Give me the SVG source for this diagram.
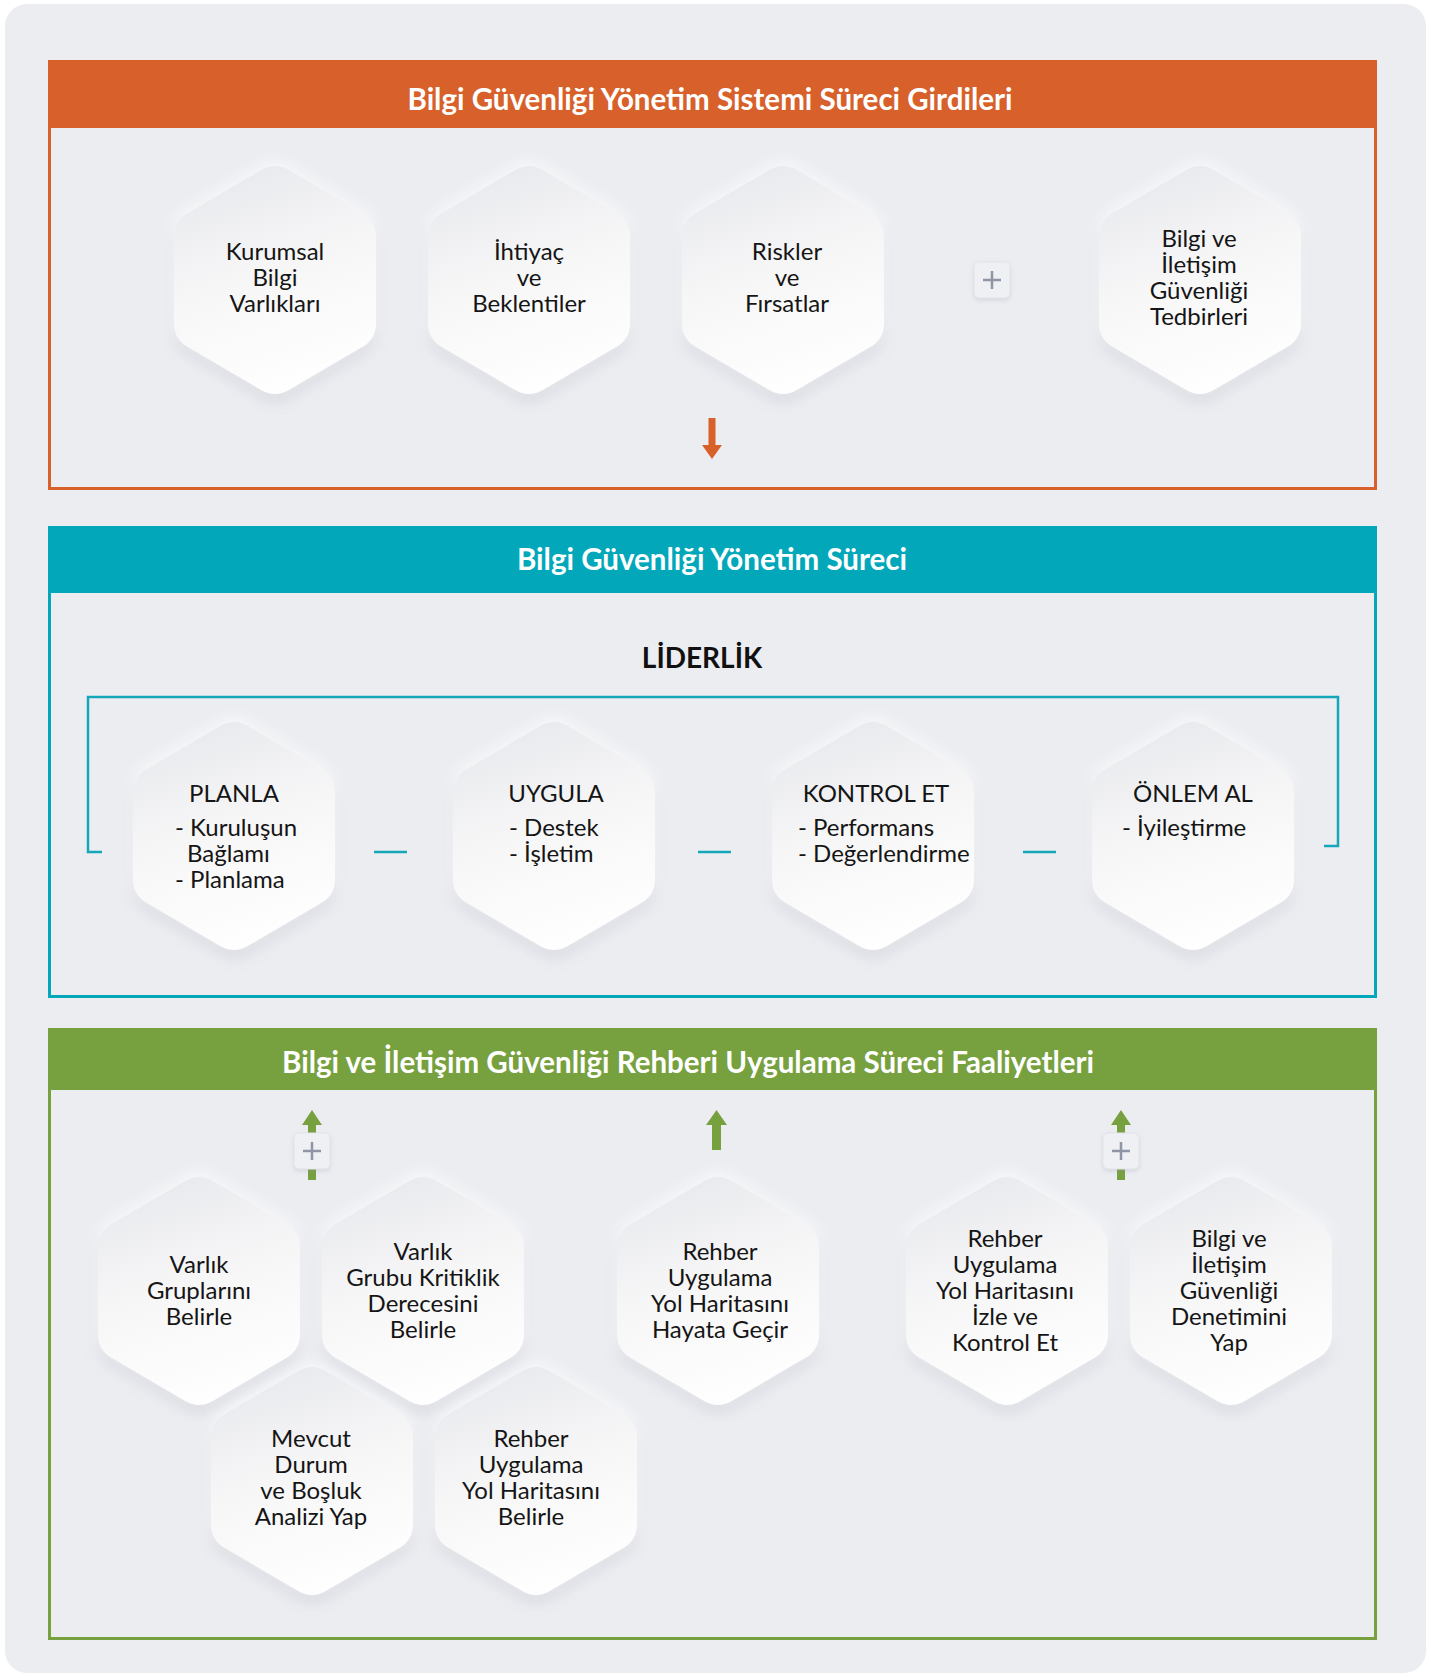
<svg xmlns="http://www.w3.org/2000/svg" width="1431" height="1678" viewBox="0 0 1431 1678">
  <defs>
    <style>
      .lbl{font-family:Lato,"Liberation Sans",sans-serif;font-size:24px;fill:#151515;text-anchor:middle}
      .start{text-anchor:start}
      .ttl{font-family:Lato,"Liberation Sans",sans-serif;font-weight:700;font-size:29.5px;fill:#ffffff;text-anchor:middle}
      .lead{font-family:Lato,"Liberation Sans",sans-serif;font-weight:700;font-size:28px;fill:#111111;text-anchor:middle}
      .hex{fill:url(#hexFill);filter:url(#soft)}
      .frame{fill:none;stroke-width:3}
      .plusbox{fill:#EFF0F3;stroke:#E1E3E8;stroke-width:1;filter:url(#softSmall)}
      .plus{stroke:#8F95A7;stroke-width:2.5;fill:none}
      .teal{stroke:#14A7BA;stroke-width:2.5;fill:none}
    </style>
    <linearGradient id="hexFill" x1="0.3" y1="0" x2="0.6" y2="1">
      <stop offset="0" stop-color="#E8E9ED"/>
      <stop offset="0.45" stop-color="#F6F6F7"/>
      <stop offset="1" stop-color="#FFFFFF"/>
    </linearGradient>
    <filter id="soft" x="-25%" y="-25%" width="150%" height="150%">
      <feGaussianBlur in="SourceAlpha" stdDeviation="7" result="b"/>
      <feOffset in="b" dy="7" result="o"/>
      <feFlood flood-color="#8A90A2" flood-opacity="0.26"/>
      <feComposite in2="o" operator="in" result="sh"/>
      <feOffset in="b" dy="-4" result="o2"/>
      <feFlood flood-color="#FFFFFF" flood-opacity="0.7"/>
      <feComposite in2="o2" operator="in" result="hl"/>
      <feMerge><feMergeNode in="sh"/><feMergeNode in="hl"/><feMergeNode in="SourceGraphic"/></feMerge>
    </filter>
    <filter id="softSmall" x="-30%" y="-30%" width="160%" height="160%">
      <feDropShadow dx="0" dy="2" stdDeviation="2" flood-color="#9095A5" flood-opacity="0.25"/>
    </filter>
    <!-- rounded hexagon, centred on the origin -->
    <path id="hexPath" d="M13.8,-109.9 L87.2,-67.1 Q101,-59 101,-43 L101,43 Q101,59 87.2,67.1 L13.8,109.9 Q0,118 -13.8,109.9 L-87.2,67.1 Q-101,59 -101,43 L-101,-43 Q-101,-59 -87.2,-67.1 L-13.8,-109.9 Q0,-118 13.8,-109.9 Z"/>
    <!-- plus badge, centred on the origin -->
    <g id="plusBadge">
      <rect class="plusbox" x="-18" y="-18" width="36" height="36" rx="5"/>
      <path class="plus" d="M-9,0 H9 M0,-9 V9"/>
    </g>
  </defs>

  <!-- page -->
  <rect width="1431" height="1678" fill="#FFFFFF"/>
  <rect x="5" y="4" width="1421" height="1669" rx="22" fill="#ECEDF1"/>

  <!-- section frames -->
  <g id="sec-inputs">
    <rect class="frame" x="49.5" y="61.5" width="1326" height="427" stroke="#D8602A"/>
    <rect x="48" y="60" width="1329" height="68" fill="#D8602A"/>
    <text class="ttl" x="710" y="110">Bilgi Güvenliği Yönetim Sistemi Süreci Girdileri</text>
  </g>
  <g id="sec-process">
    <rect class="frame" x="49.5" y="527.5" width="1326" height="469" stroke="#03A7BA"/>
    <rect x="48" y="526" width="1329" height="67" fill="#03A7BA"/>
    <text class="ttl" x="712" y="570">Bilgi Güvenliği Yönetim Süreci</text>
    <text class="lead" x="702" y="668">LİDERLİK</text>
  </g>
  <g id="sec-activities">
    <rect class="frame" x="49.5" y="1029.5" width="1326" height="609" stroke="#77A03F"/>
    <rect x="48" y="1028" width="1329" height="62" fill="#77A03F"/>
    <text class="ttl" x="688" y="1073">Bilgi ve İletişim Güvenliği Rehberi Uygulama Süreci Faaliyetleri</text>
  </g>

  <!-- connectors -->
  <g id="connectors">
    <!-- inputs flow down into the management process -->
    <path d="M708.5,418 H715.5 V445 H722 L712,459 L702,445 H708.5 Z" fill="#D8602A"/>
    <!-- leadership bracket and PDCA links -->
    <path class="teal" d="M102,852 H88 V697 H1338 V846 H1324"/>
    <path class="teal" d="M374,852 H407 M698,852 H731 M1023,852 H1056"/>
    <!-- activities feed up into the process -->
    <g fill="#77A03F">
      <path d="M308,1180 V1125 H302 L312,1110 L322,1125 H316 V1180 Z"/>
      <path d="M712,1150 V1125 H706 L716.5,1110 L727,1125 H721 V1150 Z"/>
      <path d="M1117,1180 V1125 H1111 L1121,1110 L1131,1125 H1125 V1180 Z"/>
    </g>
    <use href="#plusBadge" x="312" y="1151"/>
    <use href="#plusBadge" x="1121" y="1151"/>
    <use href="#plusBadge" x="992" y="280"/>
  </g>

  <!-- input nodes -->
  <g id="n-kurumsal">
    <use href="#hexPath" class="hex" x="275" y="280"/>
    <text class="lbl" x="275" y="260">Kurumsal<tspan x="275" y="286">Bilgi</tspan><tspan x="275" y="312">Varlıkları</tspan></text>
  </g>
  <g id="n-ihtiyac">
    <use href="#hexPath" class="hex" x="529" y="280"/>
    <text class="lbl" x="529" y="260">İhtiyaç<tspan x="529" y="286">ve</tspan><tspan x="529" y="312">Beklentiler</tspan></text>
  </g>
  <g id="n-riskler">
    <use href="#hexPath" class="hex" x="783" y="280"/>
    <text class="lbl" x="787" y="260">Riskler<tspan x="787" y="286">ve</tspan><tspan x="787" y="312">Fırsatlar</tspan></text>
  </g>
  <g id="n-tedbirler">
    <use href="#hexPath" class="hex" x="1200" y="280"/>
    <text class="lbl" x="1199" y="247">Bilgi ve<tspan x="1199" y="273">İletişim</tspan><tspan x="1199" y="299">Güvenliği</tspan><tspan x="1199" y="325">Tedbirleri</tspan></text>
  </g>

  <!-- process nodes -->
  <g id="n-planla">
    <use href="#hexPath" class="hex" x="234" y="836"/>
    <text class="lbl" x="234" y="802">PLANLA<tspan class="start" x="175" y="836">- Kuruluşun</tspan><tspan class="start" x="175" dx="12" y="862">Bağlamı</tspan><tspan class="start" x="175" y="888">- Planlama</tspan></text>
  </g>
  <g id="n-uygula">
    <use href="#hexPath" class="hex" x="554" y="836"/>
    <text class="lbl" x="556" y="802">UYGULA<tspan class="start" x="509" y="836">- Destek</tspan><tspan class="start" x="509" y="862">- İşletim</tspan></text>
  </g>
  <g id="n-kontrol">
    <use href="#hexPath" class="hex" x="873" y="836"/>
    <text class="lbl" x="876" y="802">KONTROL ET<tspan class="start" x="798" y="836">- Performans</tspan><tspan class="start" x="798" y="862">- Değerlendirme</tspan></text>
  </g>
  <g id="n-onlem">
    <use href="#hexPath" class="hex" x="1193" y="836"/>
    <text class="lbl" x="1193" y="802">ÖNLEM AL<tspan class="start" x="1122" y="836">- İyileştirme</tspan></text>
  </g>

  <!-- activity nodes, upper row -->
  <g id="n-gruplar">
    <use href="#hexPath" class="hex" x="199" y="1291"/>
    <text class="lbl" x="199" y="1273">Varlık<tspan x="199" y="1299">Gruplarını</tspan><tspan x="199" y="1325">Belirle</tspan></text>
  </g>
  <g id="n-kritiklik">
    <use href="#hexPath" class="hex" x="423" y="1291"/>
    <text class="lbl" x="423" y="1260">Varlık<tspan x="423" y="1286">Grubu Kritiklik</tspan><tspan x="423" y="1312">Derecesini</tspan><tspan x="423" y="1338">Belirle</tspan></text>
  </g>
  <g id="n-hayata">
    <use href="#hexPath" class="hex" x="718" y="1291"/>
    <text class="lbl" x="720" y="1260">Rehber<tspan x="720" y="1286">Uygulama</tspan><tspan x="720" y="1312">Yol Haritasını</tspan><tspan x="720" y="1338">Hayata Geçir</tspan></text>
  </g>
  <g id="n-izle">
    <use href="#hexPath" class="hex" x="1007" y="1291"/>
    <text class="lbl" x="1005" y="1247">Rehber<tspan x="1005" y="1273">Uygulama</tspan><tspan x="1005" y="1299">Yol Haritasını</tspan><tspan x="1005" y="1325">İzle ve</tspan><tspan x="1005" y="1351">Kontrol Et</tspan></text>
  </g>
  <g id="n-denetim">
    <use href="#hexPath" class="hex" x="1231" y="1291"/>
    <text class="lbl" x="1229" y="1247">Bilgi ve<tspan x="1229" y="1273">İletişim</tspan><tspan x="1229" y="1299">Güvenliği</tspan><tspan x="1229" y="1325">Denetimini</tspan><tspan x="1229" y="1351">Yap</tspan></text>
  </g>

  <!-- activity nodes, lower row -->
  <g id="n-mevcut">
    <use href="#hexPath" class="hex" x="312" y="1481"/>
    <text class="lbl" x="311" y="1447">Mevcut<tspan x="311" y="1473">Durum</tspan><tspan x="311" y="1499">ve Boşluk</tspan><tspan x="311" y="1525">Analizi Yap</tspan></text>
  </g>
  <g id="n-yolharitasi">
    <use href="#hexPath" class="hex" x="536" y="1481"/>
    <text class="lbl" x="531" y="1447">Rehber<tspan x="531" y="1473">Uygulama</tspan><tspan x="531" y="1499">Yol Haritasını</tspan><tspan x="531" y="1525">Belirle</tspan></text>
  </g>
</svg>
